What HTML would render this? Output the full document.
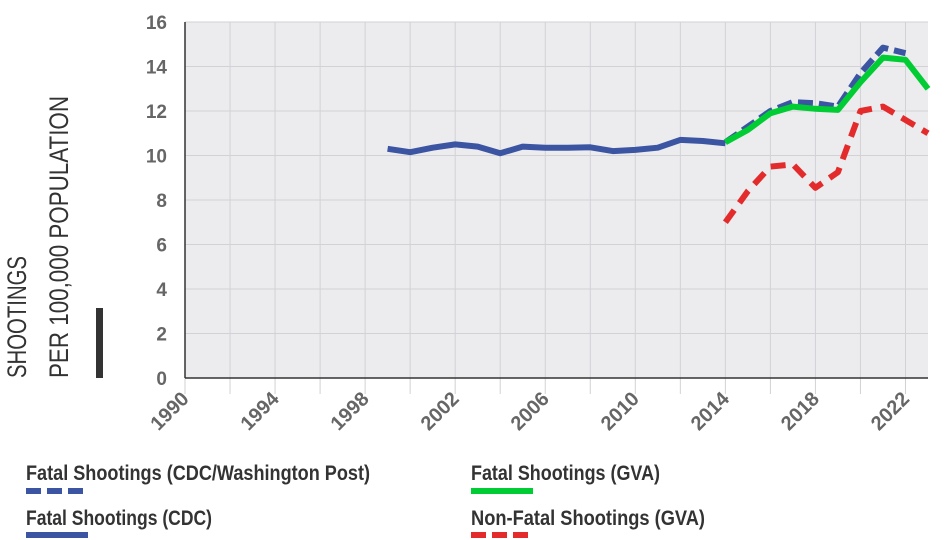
<!DOCTYPE html>
<html><head><meta charset="utf-8"><style>
html,body{margin:0;padding:0;background:#fff;}
svg{display:block;}
text{font-family:"Liberation Sans Narrow","Liberation Sans",sans-serif;}
</style></head><body>
<svg id="chart" width="950" height="540" xmlns="http://www.w3.org/2000/svg">
<rect x="185" y="22" width="743" height="356" fill="#ececee"/>
<g id="grid"></g>
<g id="axes"></g>
<g id="series"></g>
<text transform="translate(26,378) rotate(-90)" font-size="27" fill="#333" textLength="122" lengthAdjust="spacingAndGlyphs">SHOOTINGS</text>
<text transform="translate(68,378) rotate(-90)" font-size="27" fill="#333" textLength="282" lengthAdjust="spacingAndGlyphs">PER 100,000 POPULATION</text>
<rect x="96" y="308" width="7" height="70" fill="#333"/>
<g>
<text x="26" y="480" font-size="21" font-weight="bold" fill="#333" textLength="344" lengthAdjust="spacingAndGlyphs">Fatal Shootings (CDC/Washington Post)</text>
<line x1="26" y1="491" x2="88" y2="491" stroke="#3b55a3" stroke-width="6" stroke-dasharray="15,6"/>
<text x="26" y="525" font-size="21" font-weight="bold" fill="#333" textLength="186" lengthAdjust="spacingAndGlyphs">Fatal Shootings (CDC)</text>
<line x1="26" y1="535" x2="88" y2="535" stroke="#3b55a3" stroke-width="6"/>
<text x="471" y="480" font-size="21" font-weight="bold" fill="#333" textLength="189" lengthAdjust="spacingAndGlyphs">Fatal Shootings (GVA)</text>
<line x1="471" y1="491" x2="533" y2="491" stroke="#00cc33" stroke-width="6"/>
<text x="471" y="525" font-size="21" font-weight="bold" fill="#333" textLength="234" lengthAdjust="spacingAndGlyphs">Non-Fatal Shootings (GVA)</text>
<line x1="471" y1="535" x2="533" y2="535" stroke="#e32b2b" stroke-width="6" stroke-dasharray="15,6"/>
</g>
</svg>
<script>
const yTicks = [0,2,4,6,8,10,12,14,16];
const xTickLabels = [1990,1994,1998,2002,2006,2010,2014,2018,2022];
const cdcYears = [1999,2000,2001,2002,2003,2004,2005,2006,2007,2008,2009,2010,2011,2012,2013,2014];
const cdcValues = [10.3,10.15,10.35,10.5,10.4,10.1,10.4,10.35,10.35,10.37,10.2,10.25,10.35,10.7,10.65,10.55];
const wapoYears = [2014,2015,2016,2017,2018,2019,2020,2021,2022];
const wapoValues = [10.6,11.3,12.0,12.4,12.35,12.2,13.7,14.85,14.6];
const gvaYears = [2014,2015,2016,2017,2018,2019,2020,2021,2022,2023];
const gvaFatalValues = [10.6,11.15,11.9,12.2,12.1,12.05,13.3,14.4,14.3,13.0];
const gvaNonFatalValues = [7.0,8.4,9.5,9.6,8.55,9.25,12.0,12.2,11.6,11.0];

const NS = "http://www.w3.org/2000/svg";
const X0=185, X1=928, Y0=378, Y1=22;
const xs = yr => X0 + (yr-1990)*(X1-X0)/33;
const ys = v => Y0 - v*(Y0-Y1)/16;
function mk(tag, attrs, parent){const e=document.createElementNS(NS,tag);for(const k in attrs)e.setAttribute(k,attrs[k]);parent.appendChild(e);return e;}
const grid=document.getElementById('grid'), axes=document.getElementById('axes'), series=document.getElementById('series');
yTicks.forEach(v=>{
  const l=mk('line',{x1:X0,x2:X1,y1:ys(v),y2:ys(v),stroke:'#d2d2d6','stroke-width':1},grid);
  
  
  const t=mk('text',{x:167,y:ys(v)+7,'text-anchor':'end','font-size':19,'font-weight':'bold',fill:'#666'},axes);
  t.textContent=v;
  
  
});
for(let yr=1990; yr<=2022; yr+=2){
  const l=mk('line',{x1:xs(yr),x2:xs(yr),y1:Y1,y2:Y0+16,stroke:'#d2d2d6','stroke-width':1},grid);
  
  
}
const ax=mk('line',{x1:X0,x2:X1,y1:Y0,y2:Y0,stroke:'#333','stroke-width':1.5},axes);


const ay=mk('line',{x1:X0,x2:X0,y1:Y1,y2:Y0,stroke:'#333','stroke-width':1.5},axes);


xTickLabels.forEach(yr=>{
  const t=mk('text',{transform:`translate(${xs(yr)+5},${Y0+22}) rotate(-45)`,'text-anchor':'end','font-size':20,'font-weight':'bold',fill:'#666'},axes);
  t.textContent=yr;
  
  
});
function path(years, vals, color, dash, name){
  const d=years.map((yr,i)=>(i?'L':'M')+xs(yr).toFixed(1)+','+ys(vals[i]).toFixed(1)).join(' ');
  const p=mk('path',{d:d,fill:'none',stroke:color,'stroke-width':6,'stroke-linejoin':'round'},series);
  if(dash)p.setAttribute('stroke-dasharray',dash);
  
  
}
path(cdcYears,cdcValues,'#3b55a3',null,'series-cdc-fatal');
path(wapoYears,wapoValues,'#3b55a3','15,6','series-cdc-wapo-fatal');
path(gvaYears,gvaFatalValues,'#00cc33',null,'series-gva-fatal');
path(gvaYears,gvaNonFatalValues,'#e32b2b','15,9','series-gva-nonfatal');
</script>
</body></html>
